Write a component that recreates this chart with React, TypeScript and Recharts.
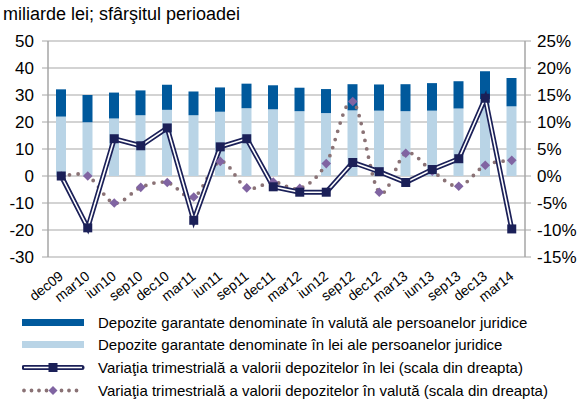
import React from "react";
import {
  ComposedChart,
  Bar,
  Line,
  XAxis,
  YAxis,
  CartesianGrid,
} from "recharts";

// quarters, end of period
const categories = [
  "dec09", "mar10", "iun10", "sep10", "dec10", "mar11", "iun11", "sep11", "dec11",
  "mar12", "iun12", "sep12", "dec12", "mar13", "iun13", "sep13", "dec13", "mar14",
];

// billion lei
const leiDeposits = [22.0, 19.9, 21.3, 22.5, 24.5, 22.5, 23.8, 25.1, 24.7, 24.0, 23.3, 24.3, 24.2, 24.0, 24.2, 25.0, 28.5, 25.8];
const valutaDeposits = [10.1, 10.1, 9.6, 9.2, 9.3, 8.8, 9.0, 9.1, 8.9, 8.7, 8.9, 9.7, 9.7, 10.0, 10.2, 10.1, 10.3, 10.5];

// quarterly change, % (right scale)
const leiChange = [0, -9.6, 6.9, 5.6, 8.9, -8.2, 5.4, 6.9, -2.0, -3.0, -3.0, 2.5, 0.8, -1.2, 1.2, 3.2, 14.4, -9.8];
const valutaChange = [0, 0, -5.0, -2.1, -1.2, -3.9, 2.7, -2.2, -1.1, -2.3, 2.3, 13.8, -3.0, 4.2, 0.9, -1.9, 2.0, 2.9];

const leftTicks = [-30, -20, -10, 0, 10, 20, 30, 40, 50];
const rightTicks = [-15, -10, -5, 0, 5, 10, 15, 20, 25];

const legendLabels = [
  "Depozite garantate denominate în valută ale persoanelor juridice",
  "Depozite garantate denominate în lei ale persoanelor juridice",
  "Variaţia trimestrială a valorii depozitelor în lei (scala din dreapta)",
  "Variaţia trimestrială a valorii depozitelor în valută (scala din dreapta)",
];

const data = categories.map((name, i) => ({
  name,
  lei: leiDeposits[i],
  valuta: valutaDeposits[i],
  leiChg: leiChange[i],
  valutaChg: valutaChange[i],
}));

const DARK = "#00599c";
const LIGHT = "#b9d4e6";
const NAVY = "#1b2058";
const DIAMOND = "#8064a2";
const DOTS = "#8a7275";
const GRID = "#c4c4c4";
const FONT = "'Liberation Sans', Arial, sans-serif";

// excel-like smoothed line (catmull-rom style bezier)
const excelSmooth = (context: any) => {
  let pts: number[][] = [];
  return {
    areaStart() {},
    areaEnd() {},
    lineStart() {
      pts = [];
    },
    point(x: number, y: number) {
      pts.push([+x, +y]);
    },
    lineEnd() {
      const n = pts.length;
      if (!n) return;
      context.moveTo(pts[0][0], pts[0][1]);
      for (let i = 0; i < n - 1; i++) {
        const p0 = pts[i - 1] || pts[i];
        const p1 = pts[i];
        const p2 = pts[i + 1];
        const p3 = pts[i + 2] || p2;
        context.bezierCurveTo(
          p1[0] + (p2[0] - p0[0]) / 6,
          p1[1] + (p2[1] - p0[1]) / 6,
          p2[0] - (p3[0] - p1[0]) / 6,
          p2[1] - (p3[1] - p1[1]) / 6,
          p2[0],
          p2[1]
        );
      }
    },
  };
};

const SquareDot = (props: any) => {
  const { cx, cy, index } = props;
  if (cx == null || cy == null) return null;
  return <rect key={`sq-${index}`} x={cx - 4.5} y={cy - 4.5} width={9} height={9} fill={NAVY} />;
};

const DiamondDot = (props: any) => {
  const { cx, cy, index } = props;
  if (cx == null || cy == null) return null;
  return (
    <polygon
      key={`dm-${index}`}
      points={`${cx},${cy - 4.8} ${cx + 4.8},${cy} ${cx},${cy + 4.8} ${cx - 4.8},${cy}`}
      fill={DIAMOND}
    />
  );
};

const XTick = ({ x, y, payload }: any) => (
  <g transform={`translate(${x + 3},${y + 13})`}>
    <text textAnchor="end" transform="rotate(-38)" fontSize={14} fill="#000" fontFamily={FONT}>
      {payload.value}
    </text>
  </g>
);

const LegendIcon = ({ kind }: { kind: number }) => {
  if (kind === 0) return <rect x={0} y={4} width={62} height={7} fill={DARK} />;
  if (kind === 1) return <rect x={0} y={4} width={62} height={7} fill={LIGHT} />;
  if (kind === 2)
    return (
      <g>
        <line x1={2} y1={7.5} x2={60} y2={7.5} stroke={NAVY} strokeWidth={5} strokeLinecap="round" />
        <line x1={2} y1={7.5} x2={60} y2={7.5} stroke="#fff" strokeWidth={1.6} />
        <rect x={26.5} y={3} width={9} height={9} fill={NAVY} />
      </g>
    );
  return (
    <g>
      <line x1={2} y1={7.5} x2={60} y2={7.5} stroke={DOTS} strokeWidth={3.8} strokeLinecap="round" strokeDasharray="0 7.5" />
      <polygon points="31,3 35.5,7.5 31,12 26.5,7.5" fill={DIAMOND} />
    </g>
  );
};

export default function App() {
  return (
    <div style={{ position: "absolute", left: 0, top: 0, width: 581, height: 403, background: "#fff", fontFamily: FONT }}>
      <div style={{ position: "absolute", left: 3, top: 4, fontSize: 18, color: "#000", whiteSpace: "nowrap" }}>
        miliarde lei; sfârşitul perioadei
      </div>
      <ComposedChart
        width={581}
        height={310}
        data={data}
        margin={{ top: 41, right: 0, bottom: 0, left: 0 }}
        barCategoryGap={0}
        barGap={0}
      >
        <CartesianGrid yAxisId="left" vertical={false} stroke={GRID} strokeWidth={1.5} />
        <XAxis
          dataKey="name"
          interval={0}
          height={53}
          tick={<XTick />}
          tickLine={false}
          axisLine={false}
        />
        <YAxis
          yAxisId="left"
          width={48}
          domain={[-30, 50]}
          ticks={leftTicks}
          interval={0}
          tick={{ fontSize: 17, fill: "#000", fontFamily: FONT }}
          tickLine={{ stroke: "#a6a6a6" }}
          axisLine={{ stroke: "#a6a6a6", strokeWidth: 1.5 }}
          tickMargin={8}
        />
        <YAxis
          yAxisId="right"
          orientation="right"
          width={56}
          domain={[-15, 25]}
          ticks={rightTicks}
          interval={0}
          tickFormatter={(v: number) => `${v}%`}
          tick={{ fontSize: 17, fill: "#000", fontFamily: FONT }}
          tickLine={{ stroke: "#a6a6a6" }}
          axisLine={{ stroke: "#a6a6a6", strokeWidth: 1.5 }}
          tickMargin={6}
        />
        <Bar yAxisId="left" dataKey="lei" stackId="a" fill={LIGHT} barSize={10} isAnimationActive={false} />
        <Bar yAxisId="left" dataKey="valuta" stackId="a" fill={DARK} barSize={10} isAnimationActive={false} />
        <Line
          yAxisId="right"
          dataKey="valutaChg"
          type={excelSmooth as any}
          stroke={DOTS}
          strokeWidth={3.8}
          strokeLinecap="round"
          strokeDasharray="0 8.5"
          dot={<DiamondDot />}
          activeDot={false}
          isAnimationActive={false}
        />
        <Line
          yAxisId="right"
          dataKey="leiChg"
          type="linear"
          stroke={NAVY}
          strokeWidth={5}
          dot={false}
          activeDot={false}
          isAnimationActive={false}
        />
        <Line
          yAxisId="right"
          dataKey="leiChg"
          type="linear"
          stroke="#fff"
          strokeWidth={1.6}
          dot={<SquareDot />}
          activeDot={false}
          isAnimationActive={false}
        />
      </ComposedChart>
      {legendLabels.map((label, i) => (
        <div
          key={label}
          style={{ position: "absolute", left: 22, top: 314 + i * 22.7, height: 16, display: "flex", alignItems: "center", whiteSpace: "nowrap" }}
        >
          <svg width={64} height={15} style={{ display: "block" }}>
            <LegendIcon kind={i} />
          </svg>
          <span style={{ marginLeft: 12, fontSize: 15, color: "#000" }}>{label}</span>
        </div>
      ))}
    </div>
  );
}
